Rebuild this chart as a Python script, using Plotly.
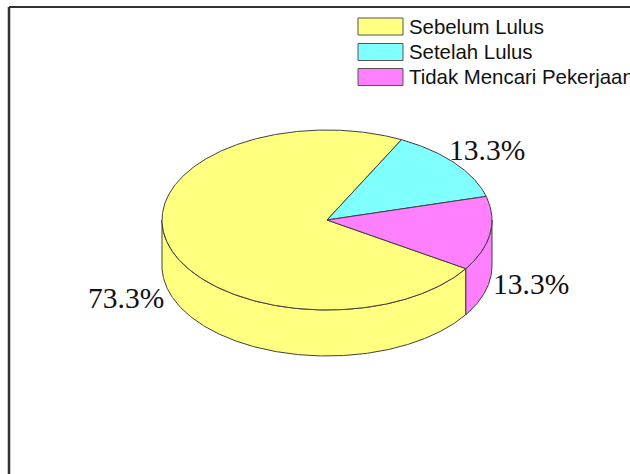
import numpy as np
import plotly.graph_objects as go

categories = ["Sebelum Lulus", "Setelah Lulus", "Tidak Mencari Pekerjaan"]
values = [73.3, 13.3, 13.3]
labels = ["73.3%", "13.3%", "13.3%"]
colors = ["#FFFF80", "#80FFFF", "#FF80FF"]

W, H = 630, 474
CX, CY, RX, RY, DEPTH = 327, 220, 165, 90, 46
START = 327.3  # first slice begins here and slices run clockwise
EDGE = "#404040"


def pt(deg, drop=0):
    t = np.radians(deg)
    return CX + RX * np.cos(t), CY - RY * np.sin(t) + drop


def arc(a, b, drop=0):
    n = max(2, int(abs(b - a)) * 2 + 1)
    return pt(np.linspace(a, b, n), drop)


fig = go.Figure()
shares = np.array(values) / sum(values) * 360
bounds = START - np.concatenate([[0], np.cumsum(shares)])  # descending angles

# side walls: only the front half of the rim is visible
for i in range(len(values)):
    hi, lo = bounds[i], bounds[i + 1]
    for win_lo, win_hi in [(180, 360), (-180, 0)]:
        a, b = max(lo, win_lo), min(hi, win_hi)
        if b > a:
            x1, y1 = arc(a, b)
            x2, y2 = arc(b, a, DEPTH)
            fig.add_trace(go.Scatter(
                x=np.r_[x1, x2, x1[0]], y=np.r_[y1, y2, y1[0]], mode="lines", fill="toself",
                fillcolor=colors[i], line=dict(color=EDGE, width=1), hoverinfo="skip", showlegend=False))

# top face
for i in range(len(values)):
    xa, ya = arc(bounds[i], bounds[i + 1])
    fig.add_trace(go.Scatter(
        x=np.r_[CX, xa, CX], y=np.r_[CY, ya, CY], mode="lines", fill="toself",
        fillcolor=colors[i], line=dict(color=EDGE, width=1), name=categories[i],
        hoverinfo="skip", showlegend=False))

shapes = [
    dict(type="line", x0=9, x1=9, y0=7, y1=H, line=dict(color="#333333", width=2.5)),
    dict(type="line", x0=9, x1=W, y0=7, y1=7, line=dict(color="#333333", width=2)),
]
annotations = []
legend_y = [26.5, 52, 77]
for name, col, ly in zip(categories, colors, legend_y):
    shapes.append(dict(type="rect", x0=358, x1=403, y0=ly - 8.5, y1=ly + 8.5,
                       fillcolor=col, line=dict(color="#555555", width=1)))
    annotations.append(dict(x=407, y=ly, text=name, showarrow=False, xanchor="left", yanchor="middle",
                            font=dict(family="Liberation Sans", size=20.4, color="#111111")))

label_pos = [(126, 298), (487, 150), (531, 284)]
for text, (lx, ly) in zip(labels, label_pos):
    annotations.append(dict(x=lx, y=ly, text=text, showarrow=False, xanchor="center", yanchor="middle",
                            font=dict(family="Liberation Serif", size=29.5, color="#111111")))

fig.update_layout(
    width=W, height=H, margin=dict(l=0, r=0, t=0, b=0),
    paper_bgcolor="white", plot_bgcolor="white", showlegend=False,
    xaxis=dict(range=[0, W], visible=False, fixedrange=True),
    yaxis=dict(range=[H, 0], visible=False, fixedrange=True),
    shapes=shapes, annotations=annotations,
)
fig.write_html("out.html", config=dict(displayModeBar=False),
               post_script="document.body.style.margin='0';document.body.style.overflow='hidden';")
